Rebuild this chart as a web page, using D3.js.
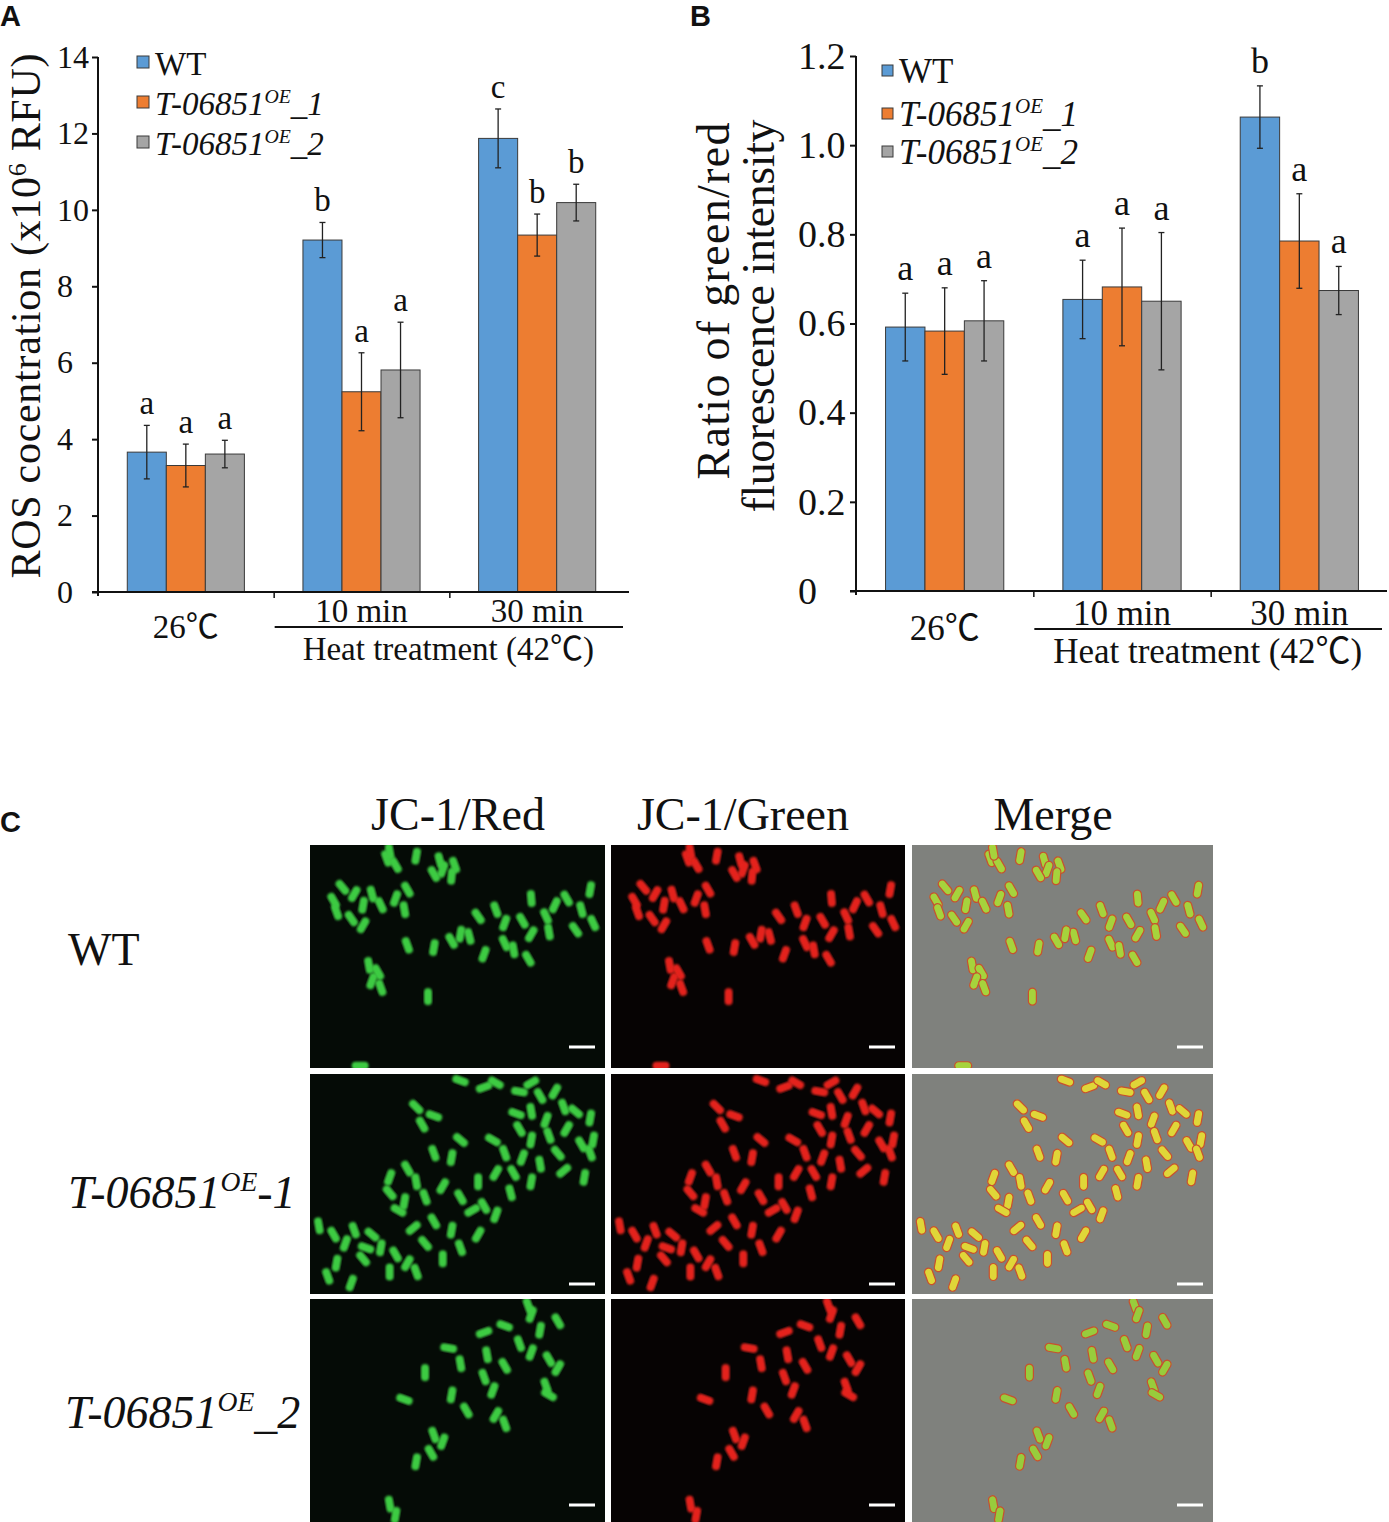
<!DOCTYPE html>
<html>
<head>
<meta charset="utf-8">
<script src="https://cdn.jsdelivr.net/npm/d3@7"></script>
<style>
  body { margin: 0; background: #fff; }
  svg { display: block; }
  text { font-family: "Liberation Serif", "Times New Roman", "Noto Sans CJK SC", serif; fill: #111; }
</style>
</head>
<body>
<svg width="1389" height="1522"></svg>
<script>
// ---- data ----
var groups = ["26℃", "10 min", "30 min"];
var seriesNames = ["WT", "T-06851OE_1", "T-06851OE_2"];
var seriesColors = ["#5b9bd5", "#ed7d31", "#a5a5a5"];

// panel A: ROS, x10^6 RFU  (rows = groups, cols = series)
var rosMean = [[3.66, 3.31, 3.61], [9.21, 5.24, 5.81], [11.87, 9.34, 10.19]];
var rosErr = [[0.70, 0.56, 0.36], [0.46, 1.02, 1.25], [0.77, 0.55, 0.48]];
var rosLetters = [["a", "a", "a"], ["b", "a", "a"], ["c", "b", "b"]];
var rosTicks = [0, 2, 4, 6, 8, 10, 12, 14];

// panel B: green/red ratio
var ratioMean = [[0.592, 0.583, 0.606], [0.654, 0.682, 0.650], [1.063, 0.785, 0.674]];
var ratioErr = [[0.076, 0.097, 0.090], [0.088, 0.132, 0.154], [0.070, 0.106, 0.054]];
var ratioLetters = [["a", "a", "a"], ["a", "a", "a"], ["b", "a", "a"]];
var ratioTicks = [0, 0.2, 0.4, 0.6, 0.8, 1.0, 1.2];

// panel C: labels and approximate cell fields [fx, fy, angle]
var channelLabels = ["JC-1/Red", "JC-1/Green", "Merge"];
var strainLabels = ["WT", "T-06851OE-1", "T-06851OE_2"];

var cellsWT = [[0.26,0.06,70],[0.29,0.09,60],[0.27,0.03,80],[0.36,0.05,100],[0.44,0.07,75],[0.45,0.11,110],[0.49,0.09,70],[0.42,0.13,60],[0.48,0.14,95],
  [0.11,0.19,50],[0.15,0.22,120],[0.08,0.25,60],[0.09,0.30,70],[0.14,0.33,55],[0.18,0.27,100],[0.21,0.22,75],[0.24,0.27,65],[0.29,0.24,110],[0.32,0.29,80],[0.33,0.20,60],[0.18,0.36,120],
  [0.33,0.45,70],[0.42,0.46,100],[0.48,0.43,60],[0.54,0.41,75],[0.59,0.49,110],[0.66,0.44,65],[0.69,0.47,80],[0.74,0.51,60],[0.51,0.40,100],
  [0.57,0.32,55],[0.63,0.29,70],[0.66,0.35,110],[0.72,0.34,60],[0.75,0.24,85],[0.80,0.32,65],[0.83,0.27,115],[0.87,0.24,60],[0.92,0.29,75],[0.95,0.20,100],[0.96,0.35,65],[0.81,0.39,80],[0.90,0.38,55],[0.75,0.40,120],
  [0.20,0.54,80],[0.23,0.57,60],[0.21,0.61,110],[0.24,0.64,70],[0.40,0.68,90],[0.17,0.99,0]];
var cellsOE1 = [[0.51,0.03,20],[0.59,0.06,160],[0.63,0.04,30],[0.71,0.08,10],[0.75,0.04,150],[0.78,0.10,60],[0.83,0.08,120],[0.86,0.15,70],[0.90,0.17,40],[0.95,0.20,100],
  [0.36,0.15,45],[0.42,0.19,20],[0.38,0.23,60],
  [0.75,0.17,80],[0.80,0.21,110],[0.71,0.25,60],[0.75,0.30,100],[0.81,0.28,70],[0.87,0.25,120],[0.92,0.32,60],[0.96,0.30,100],[0.84,0.36,50],[0.78,0.41,80],[0.72,0.38,110],[0.66,0.36,70],[0.69,0.45,60],[0.75,0.49,100],[0.63,0.45,120],
  [0.51,0.30,40],[0.42,0.36,70],[0.48,0.38,100],[0.33,0.43,60],[0.27,0.47,110],[0.36,0.49,80],[0.27,0.54,50],[0.32,0.58,100],[0.39,0.56,70],[0.45,0.51,120],[0.51,0.56,60],[0.57,0.49,90],[0.59,0.60,60],[0.63,0.64,110],[0.68,0.54,75],
  [0.03,0.69,80],[0.08,0.73,60],[0.12,0.77,110],[0.15,0.71,70],[0.21,0.73,40],[0.24,0.79,100],[0.29,0.82,60],[0.33,0.86,120],[0.36,0.90,70],[0.27,0.90,90],[0.18,0.84,50],[0.09,0.86,100],[0.06,0.92,70],[0.14,0.95,110],
  [0.42,0.67,60],[0.48,0.71,100],[0.51,0.79,70],[0.57,0.73,120],[0.39,0.77,50],[0.45,0.84,90],[0.95,0.36,70],[0.93,0.47,100],
  [0.30,0.62,30],[0.35,0.70,140],[0.19,0.79,20],[0.55,0.62,150],[0.62,0.30,30],[0.86,0.44,140],[0.70,0.18,20]];
var cellsOE2 = [[0.74,0.03,70],[0.75,0.07,110],[0.84,0.10,60],[0.78,0.14,100],[0.66,0.12,20],[0.59,0.15,160],[0.71,0.20,70],[0.75,0.24,110],[0.81,0.27,60],[0.84,0.31,120],
  [0.80,0.39,70],[0.60,0.25,80],[0.66,0.30,60],[0.39,0.33,90],[0.47,0.22,10],[0.51,0.29,80],[0.59,0.35,70],[0.62,0.41,110],[0.53,0.50,60],[0.63,0.52,120],
  [0.66,0.56,70],[0.48,0.43,100],[0.42,0.61,70],[0.45,0.64,110],[0.41,0.69,60],[0.36,0.73,100],[0.32,0.45,20],[0.27,0.92,80],[0.29,0.97,100],[0.81,0.43,30]];
var cellFields = [cellsWT, cellsOE1, cellsOE2];

var svg = d3.select("svg");

// label with italic strain name + superscript OE
function strainText(sel, name, size) {
  if (name === "WT") { sel.text("WT"); return; }
  var base = name.slice(0, 7), tail = name.slice(9);
  sel.attr("font-style", "italic");
  sel.append("tspan").text(base);
  sel.append("tspan").attr("font-size", size * 0.6).attr("dy", -size * 0.36).text("OE");
  sel.append("tspan").attr("dy", size * 0.36).text(tail);
}

function drawChart(g, o) {
  var y = d3.scaleLinear().domain([0, o.max]).range([o.bottom, o.top]);
  var xg = d3.scaleBand().domain(groups).range([o.left, o.right]);
  var xs = d3.scaleBand().domain(d3.range(3)).range([0, xg.bandwidth()]).paddingOuter(o.pad);

  var rows = [];
  groups.forEach(function(gn, gi) {
    o.means[gi].forEach(function(m, si) {
      rows.push({g: gn, s: si, m: m, e: o.errs[gi][si], l: o.letters[gi][si]});
    });
  });
  function cx(d) { return xg(d.g) + xs(d.s) + xs.bandwidth() / 2; }

  g.selectAll("rect.bar").data(rows).enter().append("rect")
    .attr("class", "bar")
    .attr("x", function(d) { return xg(d.g) + xs(d.s); })
    .attr("y", function(d) { return y(d.m); })
    .attr("width", xs.bandwidth())
    .attr("height", function(d) { return y(0) - y(d.m); })
    .attr("fill", function(d) { return seriesColors[d.s]; })
    .attr("stroke", "#3a3a3a")
    .attr("stroke-width", 1);

  var eb = g.selectAll("g.err").data(rows).enter().append("g").attr("class", "err")
    .attr("stroke", "#222").attr("stroke-width", 1.3);
  eb.append("line").attr("x1", cx).attr("x2", cx)
    .attr("y1", function(d) { return y(d.m - d.e); })
    .attr("y2", function(d) { return y(d.m + d.e); });
  [-1, 1].forEach(function(k) {
    eb.append("line")
      .attr("x1", function(d) { return cx(d) - 3; }).attr("x2", function(d) { return cx(d) + 3; })
      .attr("y1", function(d) { return y(d.m + k * d.e); })
      .attr("y2", function(d) { return y(d.m + k * d.e); });
  });

  g.selectAll("text.sig").data(rows).enter().append("text")
    .attr("class", "sig")
    .attr("x", cx)
    .attr("y", function(d) { return y(d.m + d.e) - o.letterGap; })
    .attr("text-anchor", "middle")
    .attr("font-size", o.letterSize)
    .text(function(d) { return d.l; });

  // y axis (labels are left aligned in the original)
  var ya = g.append("g").attr("transform", "translate(" + o.left + ",0)")
    .call(d3.axisLeft(y).tickValues(o.ticks).tickFormat(o.fmt)
      .tickSize(o.tickLen).tickSizeOuter(0));
  ya.selectAll("text").attr("font-size", o.tickFont).attr("fill", "#111")
    .attr("text-anchor", "start").attr("x", o.labelX - o.left)
    .style("font-family", "'Liberation Serif', serif");
  ya.selectAll("line").attr("stroke", "#111").attr("stroke-width", 2);
  ya.select(".domain").remove();
  g.append("line").attr("x1", o.left).attr("x2", o.left)
    .attr("y1", y(o.max)).attr("y2", y(0) + 4).attr("stroke", "#111").attr("stroke-width", 2);

  // x axis with group separators
  var xb = d3.scaleLinear().domain([0, 3]).range([o.left, o.right]);
  var xa = g.append("g").attr("transform", "translate(0," + y(0) + ")")
    .call(d3.axisBottom(xb).tickValues([1, 2]).tickFormat("").tickSize(6).tickSizeOuter(0));
  xa.select(".domain").remove();
  xa.selectAll("line").attr("stroke", "#111").attr("stroke-width", 1.5);
  g.append("line").attr("x1", o.left - o.tickLen).attr("x2", o.axisEnd)
    .attr("y1", y(0)).attr("y2", y(0)).attr("stroke", "#111").attr("stroke-width", 2);

  // category labels
  g.selectAll("text.cat").data(groups).enter().append("text")
    .attr("class", "cat")
    .attr("x", function(d) { return xg(d) + xg.bandwidth() / 2; })
    .attr("y", function(d, i) { return i === 0 ? o.catY1 : o.catY2; })
    .attr("text-anchor", "middle")
    .attr("font-size", o.catFont)
    .text(function(d) { return d; });
  g.append("line").attr("x1", xg(groups[1]) + 1).attr("x2", o.lineEnd)
    .attr("y1", o.lineY).attr("y2", o.lineY).attr("stroke", "#111").attr("stroke-width", 2);
  g.append("text").attr("x", (xg(groups[1]) + o.lineEnd) / 2).attr("y", o.heatY)
    .attr("text-anchor", "middle").attr("font-size", o.catFont)
    .text("Heat treatment (42℃)");

  // legend
  seriesNames.forEach(function(n, i) {
    g.append("rect").attr("x", o.legX).attr("y", o.legY[i] - o.legSq - 7)
      .attr("width", o.legSq).attr("height", o.legSq)
      .attr("fill", seriesColors[i]).attr("stroke", "#3a3a3a").attr("stroke-width", 1);
    var t = g.append("text").attr("x", o.legX + o.legSq + 6).attr("y", o.legY[i])
      .attr("font-size", o.legFont);
    strainText(t, n, o.legFont);
  });
}

// ---- panel A ----
var gA = svg.append("g");
drawChart(gA, {
  left: 98, right: 625, axisEnd: 629, bottom: 592, top: 57, max: 14, pad: 0.75,
  ticks: rosTicks, fmt: d3.format("d"), tickLen: 6, labelX: 57, tickFont: 32,
  means: rosMean, errs: rosErr, letters: rosLetters, letterSize: 33, letterGap: 11,
  catFont: 33, catY1: 638, catY2: 622, lineY: 627, lineEnd: 623, heatY: 660,
  legX: 137, legSq: 12, legY: [75, 115, 155], legFont: 33
});
var tA = gA.append("text").attr("transform", "translate(40,316) rotate(-90)")
  .attr("text-anchor", "middle").attr("font-size", 42)
  .attr("textLength", 525).attr("lengthAdjust", "spacing");
tA.append("tspan").text("ROS cocentration (x10");
tA.append("tspan").attr("font-size", 26).attr("dy", -14).text("6");
tA.append("tspan").attr("dy", 14).text(" RFU)");

// ---- panel B ----
var gB = svg.append("g");
drawChart(gB, {
  left: 856, right: 1388, axisEnd: 1387, bottom: 591, top: 56, max: 1.2, pad: 0.75,
  ticks: ratioTicks, fmt: function(d) { return d === 0 ? "0" : d3.format(".1f")(d); },
  tickLen: 6, labelX: 798, tickFont: 38,
  means: ratioMean, errs: ratioErr, letters: ratioLetters, letterSize: 36, letterGap: 13,
  catFont: 35, catY1: 640, catY2: 625, lineY: 629, lineEnd: 1382, heatY: 663,
  legX: 882, legSq: 11, legY: [83, 126, 164], legFont: 35
});
gB.append("text").attr("transform", "translate(729,301) rotate(-90)")
  .attr("text-anchor", "middle").attr("font-size", 46)
  .attr("textLength", 357).attr("lengthAdjust", "spacing").text("Ratio of green/red");
gB.append("text").attr("transform", "translate(774,316) rotate(-90)")
  .attr("text-anchor", "middle").attr("font-size", 46)
  .attr("textLength", 393).attr("lengthAdjust", "spacing").text("fluorescence intensity");

// panel letters
[["A", 0, 26], ["B", 690, 26], ["C", 0, 832]].forEach(function(p) {
  svg.append("text").attr("x", p[1]).attr("y", p[2])
    .style("font-family", "'Liberation Sans', Arial, sans-serif")
    .attr("font-weight", "bold").attr("font-size", 29).text(p[0]);
});

// ---- panel C ----
var colX = [[310, 605], [611, 905], [912, 1213]];
var rowY = [[845, 1068], [1074, 1294], [1299, 1522]];
var barOffset = [21, 10, 17];
var panelBg = ["#050b06", "#060303", "#7f817d"];
var mergeFill = ["#a6d33c", "#e0d638", "#98cc3c"];

var defs = svg.append("defs");
defs.append("filter").attr("id", "glow").append("feGaussianBlur").attr("stdDeviation", 0.8);

var gC = svg.append("g");
channelLabels.forEach(function(l, c) {
  gC.append("text").attr("x", [458, 743, 1053][c]).attr("y", 830)
    .attr("text-anchor", "middle").attr("font-size", 46).text(l);
});
strainLabels.forEach(function(l, r) {
  var t = gC.append("text").attr("x", r === 2 ? 65 : 68).attr("y", [965, 1208, 1428][r])
    .attr("font-size", 46);
  strainText(t, l, 46);
});

rowY.forEach(function(ry, r) {
  colX.forEach(function(cxr, c) {
    var id = "clip" + r + c;
    defs.append("clipPath").attr("id", id).append("rect")
      .attr("x", cxr[0]).attr("y", ry[0]).attr("width", cxr[1] - cxr[0]).attr("height", ry[1] - ry[0]);
    var p = gC.append("g").attr("clip-path", "url(#" + id + ")");
    p.append("rect").attr("x", cxr[0]).attr("y", ry[0])
      .attr("width", cxr[1] - cxr[0]).attr("height", ry[1] - ry[0]).attr("fill", panelBg[c]);
    var sx = d3.scaleLinear().domain([0, 1]).range(cxr);
    var sy = d3.scaleLinear().domain([0, 1]).range(ry);
    var cells = p.append("g").selectAll("rect").data(cellFields[r]).enter().append("rect")
      .attr("x", -8.5).attr("y", -4).attr("width", 17).attr("height", 8).attr("rx", 4)
      .attr("transform", function(d) { return "translate(" + sx(d[0]) + "," + sy(d[1]) + ") rotate(" + d[2] + ")"; });
    if (c === 0) cells.attr("fill", "#3ccb42").attr("filter", "url(#glow)");
    else if (c === 1) cells.attr("fill", "#e4231d").attr("filter", "url(#glow)");
    else cells.attr("fill", mergeFill[r]).attr("stroke", "#c8502e").attr("stroke-width", 1.2);
    // scale bar
    p.append("line").attr("x1", cxr[1] - 36).attr("x2", cxr[1] - 10)
      .attr("y1", ry[1] - barOffset[r]).attr("y2", ry[1] - barOffset[r])
      .attr("stroke", "#fff").attr("stroke-width", 3);
  });
});
</script>
</body>
</html>
